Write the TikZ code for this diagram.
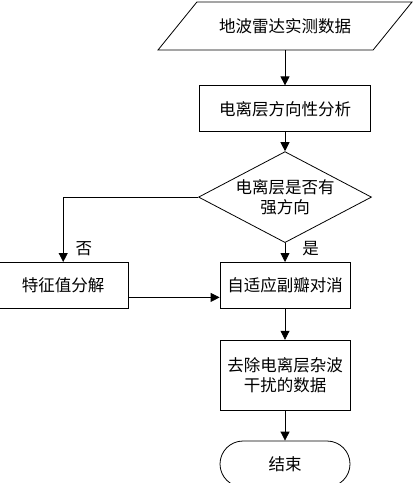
\documentclass[tikz,border=0pt]{standalone}
\usepackage{fontspec}
\setmainfont{Noto Sans CJK SC}
\usetikzlibrary{arrows.meta,positioning,shapes.geometric}

\begin{document}
\begin{tikzpicture}[
    x=1pt, y=1pt,
    font=\fontsize{16.5}{19.5}\selectfont,
    io/.style={draw,line width=0.8pt,trapezium,trapezium left angle=50,
        trapezium right angle=130,trapezium stretches body,
        minimum width=254pt,minimum height=48pt,inner xsep=0pt,inner ysep=15.5pt},
    proc/.style={draw,line width=0.8pt,align=center,
        minimum width=130pt,minimum height=46pt,inner sep=0pt},
    decision/.style={draw,line width=0.8pt,diamond,align=center,aspect=1.9,
        minimum width=173pt,minimum height=91pt,inner sep=0pt},
    term/.style={draw,line width=0.8pt,rounded corners=23pt,
        minimum width=130pt,minimum height=46pt,inner sep=0pt},
    tag/.style={inner sep=1pt},
    arrow/.style={-{Triangle[length=9pt,width=9pt]},line width=0.8pt}
]
\useasboundingbox (0,0) rectangle (415,-483);
\node[io] (data) at (285,-26) {地波雷达实测数据};
\node[proc, below=35pt of data, minimum width=171pt] (dir) {电离层方向性分析};
\node[decision, below=19pt of dir] (strong) {电离层是否有\\强方向};
\node[proc, below=19pt of strong] (cancel) {自适应副瓣对消};
\node[proc, left=91pt of cancel] (eigen) {特征值分解};
\node[proc, below=31pt of cancel, minimum height=70pt] (clean) {去除电离层杂波\\干扰的数据};
\node[term, below=30pt of clean] (end) {结束};
\draw[arrow] (data.south -| dir) -- (dir);
\draw[arrow] (dir) -- (strong);
\draw[arrow] (strong.south) -- node[tag, right=16pt, pos=0.3]{是} (cancel.north);
\draw[arrow] (strong.west) -| node[tag, right=11pt, pos=0.9]{否} (eigen.north);
\draw[arrow] ([yshift=-12pt]eigen.east) -- ([yshift=-12pt]cancel.west);
\draw[arrow] (cancel) -- (clean);
\draw[arrow] (clean) -- (end);
\end{tikzpicture}
\end{document}
